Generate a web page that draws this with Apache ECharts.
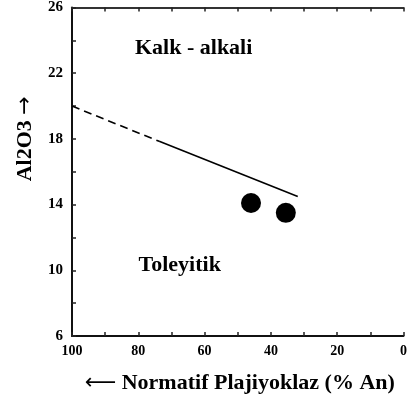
<!DOCTYPE html>
<html>
<head>
<meta charset="utf-8">
<script src="https://cdn.jsdelivr.net/npm/echarts@6/dist/echarts.min.js"></script>
<style>
  html, body { margin: 0; padding: 0; background: #fff; }
  #chart { width: 410px; height: 399px; }
</style>
</head>
<body>
<div id="chart"></div>
<script>
// boundary line: dashed part then solid part (x = % An, y = Al2O3)
var dashedLine = [[100, 20.0], [73.7, 17.85]];
var solidLine = [[73.7, 17.85], [31.9, 14.5]];
// samples
var samples = [[46, 14.1], [35.5, 13.5]];
// field names, placed in data space
var fieldLabels = [
    { name: 'Kalk - alkali', value: [63.3, 23.5] },
    { name: 'Toleyitik', value: [67.5, 10.3] }
];
var xLabelValues = [0, 20, 40, 60, 80, 100];
var yLabelValues = [6, 10, 14, 18, 22, 26];

var serif = '"Liberation Serif", "DejaVu Serif", serif';
var chart = echarts.init(document.getElementById('chart'));

var tickStyle = { show: true, inside: true, length: 4, lineStyle: { color: '#222', width: 1.5 } };
var arrowStyle = { fontFamily: '"DejaVu Sans", sans-serif', fontWeight: 'normal', fontSize: 22, color: '#000' };

var option = {
    animation: false,
    backgroundColor: '#fff',
    grid: { left: 72, right: 3, top: 5, bottom: 63 },
    xAxis: [
        {
            type: 'value',
            min: 0,
            max: 100,
            interval: 10,
            inverse: true,
            position: 'bottom',
            name: '{arr|\u27F5} Normatif Plajiyoklaz (% An)',
            nameLocation: 'middle',
            nameGap: 36,
            nameTextStyle: {
                fontFamily: serif, fontWeight: 'bold', fontSize: 22, color: '#000',
                padding: [0, 0, 0, 4],
                rich: { arr: arrowStyle }
            },
            axisLine: { show: true, lineStyle: { color: '#111', width: 2 } },
            axisTick: tickStyle,
            splitLine: { show: false },
            axisLabel: {
                margin: 8,
                fontFamily: serif,
                fontWeight: 'bold',
                fontSize: 14,
                color: '#000',
                formatter: function (v) {
                    return xLabelValues.indexOf(v) >= 0 ? String(v) : '';
                }
            }
        },
        {
            type: 'value',
            min: 0,
            max: 100,
            interval: 10,
            inverse: true,
            position: 'top',
            axisLine: { show: true, onZero: false, lineStyle: { color: '#333', width: 2 } },
            axisTick: tickStyle,
            axisLabel: { show: false },
            splitLine: { show: false }
        }
    ],
    yAxis: {
        type: 'value',
        min: 6,
        max: 26,
        interval: 2,
        name: 'Al2O3 {arr|\u2192}',
        nameLocation: 'middle',
        nameRotate: 90,
        nameGap: 36,
        nameTextStyle: {
            fontFamily: serif, fontWeight: 'bold', fontSize: 22, color: '#000',
            padding: [0, 0, 0, 66],
            rich: { arr: arrowStyle }
        },
        axisLine: { show: true, onZero: false, lineStyle: { color: '#111', width: 2 } },
        axisTick: tickStyle,
        splitLine: { show: false },
        axisLabel: {
            margin: 9,
            fontFamily: serif,
            fontWeight: 'bold',
            fontSize: 15,
            color: '#000',
            formatter: function (v) {
                return yLabelValues.indexOf(v) >= 0 ? String(v) : '';
            }
        }
    },
    series: [
        {
            type: 'line',
            data: dashedLine,
            symbol: 'none',
            lineStyle: { color: '#000', width: 1.6, type: [8, 5] }
        },
        {
            type: 'line',
            data: solidLine,
            symbol: 'none',
            lineStyle: { color: '#000', width: 1.6 }
        },
        {
            type: 'scatter',
            data: samples,
            symbol: 'circle',
            symbolSize: 20,
            itemStyle: { color: '#000', opacity: 1 }
        },
        {
            type: 'scatter',
            data: fieldLabels,
            symbolSize: 0,
            silent: true,
            itemStyle: { opacity: 1 },
            label: {
                show: true,
                position: 'inside',
                formatter: '{b}',
                fontFamily: serif,
                fontWeight: 'bold',
                fontSize: 22,
                color: '#000'
            }
        }
    ]
};

chart.setOption(option);
</script>
</body>
</html>
